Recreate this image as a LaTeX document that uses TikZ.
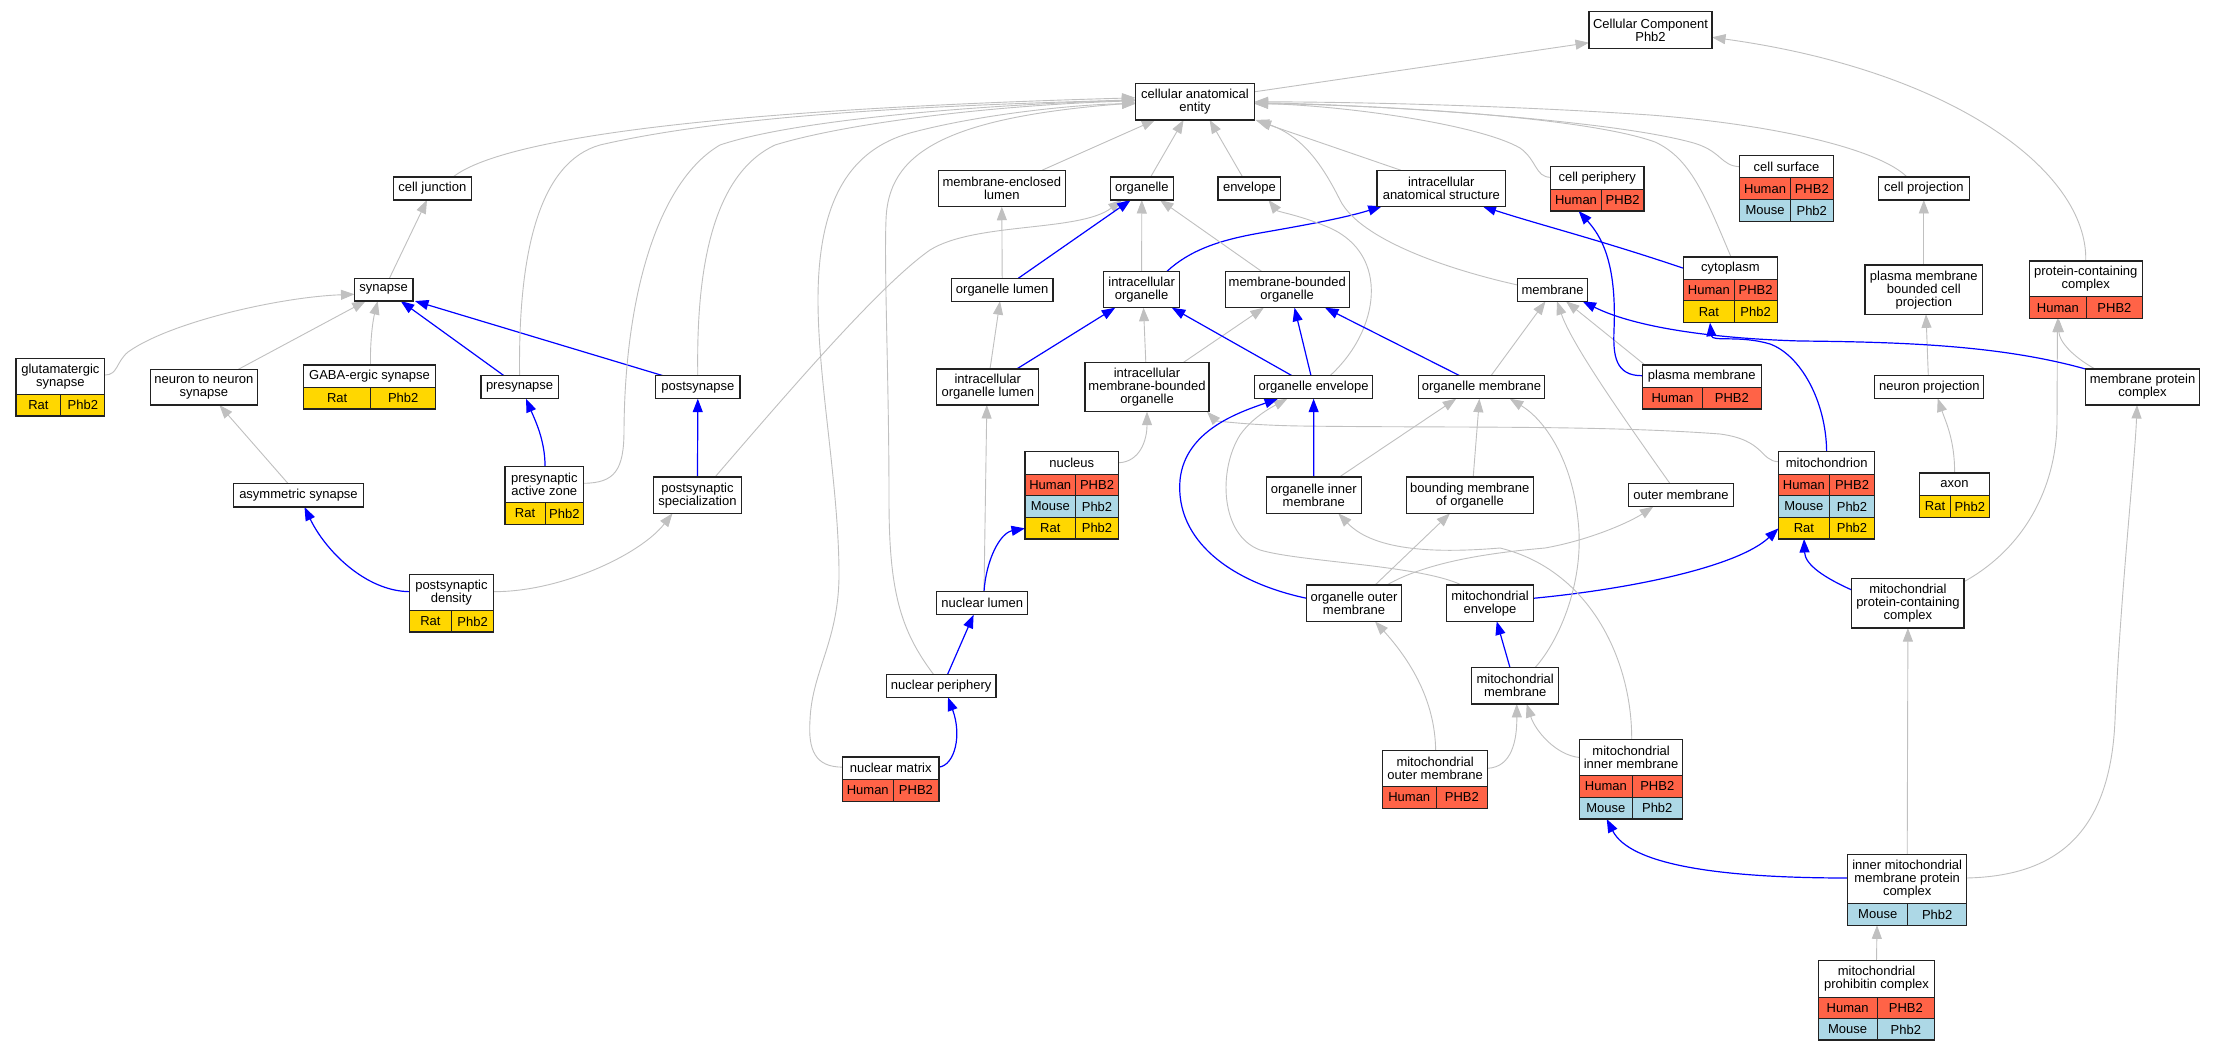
\documentclass[tikz,border=0pt]{standalone}
\usepackage{fontspec}
\setmainfont{Liberation Sans}
\usetikzlibrary{arrows.meta}
\definecolor{hum}{HTML}{FF6347}
\definecolor{mou}{HTML}{ADD8E6}
\definecolor{rat}{HTML}{FFD700}
\definecolor{eg}{HTML}{C0C0C0}
\definecolor{eb}{HTML}{0000FF}
\definecolor{bd}{HTML}{222222}
\newcommand\nf{\fontsize{13}{13}\selectfont}
\pgfdeclarelayer{bg}
\pgfsetlayers{bg,main}
\tikzset{
  gbox/.style={draw=bd, line width=1.2pt, fill=white, inner sep=0pt, outer sep=0pt, align=center, font=\nf, text=black},
  tcell/.style={draw=bd, line width=0.9pt, inner sep=0pt, outer sep=0pt, font=\nf, text=black, align=center},
  tframe/.style={draw=bd, line width=1.2pt, inner sep=0pt, outer sep=0pt},
  isa/.style={draw=eg, line width=0.9pt, -{Triangle[length=13.5pt,width=10pt]}},
  po/.style={draw=eb, line width=1.2pt, -{Triangle[length=13.5pt,width=10pt]}},
}
\newcommand\bx[6]{\node[gbox, minimum width=#4, minimum height=#5] (#1) at (#2,#3) {#6};}
\newcommand\thd[6]{\node[tcell, fill=white, minimum width={#3-#2}, minimum height={#5-#4}] (#1-h) at ({(#2+#3)/2},{(#4+#5)/2}) {#6};}
\newcommand\trw[9]{%
  \node[tcell, fill=#7, minimum width={#3-#2}, minimum height={#6-#5}] (#1-l) at ({(#2+#3)/2},{(#5+#6)/2}) {#8};
  \node[tcell, fill=#7, minimum width={#4-#3}, minimum height={#6-#5}] (#1-r) at ({(#3+#4)/2},{(#5+#6)/2}) {#9};}
\newcommand\hrow[6]{\trw{#1}{#2}{#3}{#4}{#5}{#6}{hum}{Human}{PHB2}}
\newcommand\mrow[6]{\trw{#1}{#2}{#3}{#4}{#5}{#6}{mou}{Mouse}{Phb2}}
\newcommand\rrow[6]{\trw{#1}{#2}{#3}{#4}{#5}{#6}{rat}{Rat}{Phb2}}
\newcommand\tfr[5]{\node[tframe, minimum width={#3-#2}, minimum height={#5-#4}] (#1) at ({(#2+#3)/2},{(#4+#5)/2}) {};}
\begin{document}
\begin{tikzpicture}[x=1pt,y=-1pt]
\useasboundingbox (0,0) rectangle (2216,1051);
% simple nodes
\bx{cc}{1650.5}{30}{123}{36.6}{Cellular Component\\Phb2}
\bx{cae}{1195}{101.8}{119}{36.3}{cellular anatomical\\entity}
\bx{celljunction}{432.3}{188.5}{78.3}{23}{cell junction}
\bx{mel}{1001.8}{188.5}{127}{36.5}{membrane-enclosed\\lumen}
\bx{organelle}{1141.8}{188.5}{62.8}{23}{organelle}
\bx{envelope}{1249.4}{188.5}{62.8}{23}{envelope}
\bx{ias}{1441.3}{188.3}{128.6}{36}{intracellular\\anatomical structure}
\bx{cellprojection}{1923.8}{188.5}{90.6}{23}{cell projection}
\bx{synapse}{383.7}{289.8}{58.5}{22.5}{synapse}
\bx{organellelumen}{1002.2}{289.7}{101.5}{23}{organelle lumen}
\bx{intraorg}{1141.6}{289.5}{76.4}{36.4}{intracellular\\organelle}
\bx{mbo}{1287.2}{289.5}{124.1}{36.4}{membrane-bounded\\organelle}
\bx{membrane}{1552.6}{290}{70}{22.6}{membrane}
\bx{pmbcp}{1923.8}{289.7}{117.8}{49.3}{plasma membrane\\bounded cell\\projection}
\bx{n2n}{203.9}{387.2}{106.7}{35.7}{neuron to neuron\\synapse}
\bx{presynapse}{519.6}{387.2}{77.4}{23}{presynapse}
\bx{postsynapse}{697.8}{387.2}{84.3}{23}{postsynapse}
\bx{iol}{987.8}{387}{102}{36}{intracellular\\organelle lumen}
\bx{imbo}{1147}{387}{124.1}{49.4}{intracellular\\membrane-bounded\\organelle}
\bx{oe}{1313.6}{387.2}{118.4}{23}{organelle envelope}
\bx{om}{1481.5}{387.2}{126.3}{23}{organelle membrane}
\bx{neuronprojection}{1929.3}{387}{108.9}{22.6}{neuron projection}
\bx{mpc}{2142.5}{387}{114.1}{36}{membrane protein\\complex}
\bx{asym}{298.5}{495.2}{130.7}{23.7}{asymmetric synapse}
\bx{ps}{697.5}{495.2}{88}{36.3}{postsynaptic\\specialization}
\bx{oim}{1313.8}{495.2}{94.6}{36.3}{organelle inner\\membrane}
\bx{bmo}{1469.8}{495.2}{126.6}{36.3}{bounding membrane\\of organelle}
\bx{outermembrane}{1681}{495.1}{104.3}{23}{outer membrane}
\bx{nuclearlumen}{982.3}{603.2}{91.1}{23}{nuclear lumen}
\bx{oom}{1354}{603.2}{94.7}{36.3}{organelle outer\\membrane}
\bx{me}{1490}{603.2}{86.7}{36.3}{mitochondrial\\envelope}
\bx{mpcc}{1907.9}{603.2}{112.2}{49.7}{mitochondrial\\protein-containing\\complex}
\bx{np}{941.2}{685.8}{109.4}{23}{nuclear periphery}
\bx{mm}{1515.2}{685.8}{87}{36.3}{mitochondrial\\membrane}
% table nodes
\thd{glut}{16}{104.8}{358.7}{394.3}{glutamatergic\\synapse}
\rrow{glut-1}{16}{60.9}{104.8}{394.3}{416}
\tfr{glut}{16}{104.8}{358.7}{416}
\thd{gaba}{303.4}{435.6}{365}{387.7}{GABA-ergic synapse}
\rrow{gaba-1}{303.4}{370.9}{435.6}{387.7}{409}
\tfr{gaba}{303.4}{435.6}{365}{409}
\thd{cellperiphery}{1550.5}{1643.9}{166.7}{189}{cell periphery}
\hrow{cellperiphery-1}{1550.5}{1601.5}{1643.9}{189}{211}
\tfr{cellperiphery}{1550.5}{1643.9}{166.7}{211}
\thd{cellsurface}{1739.8}{1833.2}{155.7}{177.7}{cell surface}
\hrow{cellsurface-1}{1739.8}{1790.3}{1833.2}{177.7}{199.7}
\mrow{cellsurface-2}{1739.8}{1790.3}{1833.2}{199.7}{221.3}
\tfr{cellsurface}{1739.8}{1833.2}{155.7}{221.3}
\thd{cytoplasm}{1683.7}{1777.1}{257}{279.3}{cytoplasm}
\hrow{cytoplasm-1}{1683.7}{1734}{1777.1}{279.3}{300.7}
\rrow{cytoplasm-2}{1683.7}{1734}{1777.1}{300.7}{322.7}
\tfr{cytoplasm}{1683.7}{1777.1}{257}{322.7}
\thd{pcc}{2029.2}{2142.3}{261}{296.7}{protein-containing\\complex}
\hrow{pcc-1}{2029.2}{2086.5}{2142.3}{296.7}{318.7}
\tfr{pcc}{2029.2}{2142.3}{261}{318.7}
\thd{plasmamembrane}{1642.4}{1761.2}{365}{387.3}{plasma membrane}
\hrow{plasmamembrane-1}{1642.4}{1702.5}{1761.2}{387.3}{409}
\tfr{plasmamembrane}{1642.4}{1761.2}{365}{409}
\thd{paz}{505}{583.7}{466.3}{502.7}{presynaptic\\active zone}
\rrow{paz-1}{505}{545}{583.7}{502.7}{524.3}
\tfr{paz}{505}{583.7}{466.3}{524.3}
\thd{nucleus}{1025}{1118.5}{451.7}{474.3}{nucleus}
\hrow{nucleus-1}{1025}{1075.5}{1118.5}{474.3}{495.7}
\mrow{nucleus-2}{1025}{1075.5}{1118.5}{495.7}{517.3}
\rrow{nucleus-3}{1025}{1075.5}{1118.5}{517.3}{539}
\tfr{nucleus}{1025}{1118.5}{451.7}{539}
\thd{mitochondrion}{1778.5}{1874.8}{451.7}{474.3}{mitochondrion}
\hrow{mitochondrion-1}{1778.5}{1829.2}{1874.8}{474.3}{495.7}
\mrow{mitochondrion-2}{1778.5}{1829.2}{1874.8}{495.7}{517.3}
\rrow{mitochondrion-3}{1778.5}{1829.2}{1874.8}{517.3}{539}
\tfr{mitochondrion}{1778.5}{1874.8}{451.7}{539}
\thd{axon}{1919.8}{1989.3}{473}{495.7}{axon}
\rrow{axon-1}{1919.8}{1950.3}{1989.3}{495.7}{517.3}
\tfr{axon}{1919.8}{1989.3}{473}{517.3}
\thd{psd}{409.2}{493.6}{574.3}{610.7}{postsynaptic\\density}
\rrow{psd-1}{409.2}{451.6}{493.6}{610.7}{632}
\tfr{psd}{409.2}{493.6}{574.3}{632}
\thd{nuclearmatrix}{842.5}{938.9}{757}{779.3}{nuclear matrix}
\hrow{nuclearmatrix-1}{842.5}{893}{938.9}{779.3}{801.3}
\tfr{nuclearmatrix}{842.5}{938.9}{757}{801.3}
\thd{mom}{1382.5}{1487.8}{750.3}{786.3}{mitochondrial\\outer membrane}
\hrow{mom-1}{1382.5}{1436}{1487.8}{786.3}{808.3}
\tfr{mom}{1382.5}{1487.8}{750.3}{808.3}
\thd{mim}{1579.7}{1682.5}{739.5}{775.5}{mitochondrial\\inner membrane}
\hrow{mim-1}{1579.7}{1632}{1682.5}{775.5}{797.3}
\mrow{mim-2}{1579.7}{1632}{1682.5}{797.3}{819}
\tfr{mim}{1579.7}{1682.5}{739.5}{819}
\thd{immpc}{1847.7}{1966.7}{854.7}{903.7}{inner mitochondrial\\membrane protein\\complex}
\mrow{immpc-1}{1847.7}{1907.7}{1966.7}{903.7}{925.3}
\tfr{immpc}{1847.7}{1966.7}{854.7}{925.3}
\thd{prohib}{1818.3}{1934.7}{960.7}{997}{mitochondrial\\prohibitin complex}
\hrow{prohib-1}{1818.3}{1877}{1934.7}{997}{1018.7}
\mrow{prohib-2}{1818.3}{1877}{1934.7}{1018.7}{1040}
\tfr{prohib}{1818.3}{1934.7}{960.7}{1040}
% edges
\begin{pgfonlayer}{bg}
\fill[white] (0,0) rectangle (2216,1051);
\draw[isa] ([yshift=10]cae.east) -- ([yshift=-12.7]cc.west);
\draw[isa] (pcc.north) .. controls (2088,170) and (1950,70) .. ([yshift=-7.3]cc.east);
\draw[isa] ([xshift=20.7]celljunction.north) .. controls (500,140) and (700,110) .. ([yshift=4]cae.west);
\draw[isa] ([xshift=5.6]synapse.north) -- ([xshift=-5.3]celljunction.south);
\draw[isa] ([yshift=12.3]glut.east) .. controls (118,375) and (116,362) .. (128,352) .. controls (170,322) and (280,297) .. ([yshift=-4.5]synapse.west);
\draw[isa] ([xshift=34.4]n2n.north) -- ([xshift=-18]synapse.south);
\draw[isa] ([xshift=1]gaba.north) .. controls (370,340) and (373,320) .. ([xshift=-6]synapse.south);
\draw[po] ([xshift=-15.6]presynapse.north) -- ([xshift=17]synapse.south);
\draw[po] ([xshift=-34.8]postsynapse.north) -- ([xshift=2]synapse.south east);
\draw[isa] (presynapse.north) .. controls (518,250) and (540,162) .. (600,145) .. controls (750,110) and (1000,104) .. ([yshift=2]cae.west);
\draw[isa] (postsynapse.north) .. controls (696,270) and (712,175) .. (775,145) .. controls (850,122) and (1000,105) .. ([yshift=1]cae.west);
\draw[isa] ([xshift=-10.6]asym.north) -- ([xshift=15.5]n2n.south);
\draw[po] ([xshift=0.7]paz.north) .. controls (545,440) and (535,420) .. ([xshift=6.4]presynapse.south);
\draw[isa] ([yshift=12]paz.east) .. controls (615,483) and (624,470) .. (624,430) .. controls (625,290) and (660,180) .. (720,145) .. controls (800,118) and (1000,104) .. ([yshift=1.5]cae.west);
\draw[po] (ps.north) -- (postsynapse.south);
\draw[isa] ([xshift=17.5]ps.north) .. controls (790,390) and (880,285) .. (930,250) .. controls (975,222) and (1080,232) .. ([xshift=-20]organelle.south);
\draw[isa] ([yshift=11.5]psd.east) .. controls (560,592) and (640,555) .. ([xshift=-25]ps.south);
\draw[po] ([yshift=11.5]psd.west) .. controls (365,591) and (325,550) .. ([xshift=6]asym.south);
\draw[isa] ([xshift=40.2]mel.north) -- ([xshift=-39.7]cae.south);
\draw[isa] ([xshift=8.8]organelle.north) -- ([xshift=-11.4]cae.south);
\draw[isa] ([xshift=-6.8]envelope.north) -- ([xshift=14.6]cae.south);
\draw[isa] ([xshift=-40.3]ias.north) -- ([xshift=3,yshift=-1]cae.south east);
\draw[isa] (organellelumen.north) -- (mel.south);
\draw[po] ([xshift=16.2]organellelumen.north) -- ([xshift=-11.1]organelle.south);
\draw[isa] (intraorg.north) -- (organelle.south);
\draw[po] ([xshift=25.4]intraorg.north) .. controls (1190,250) and (1220,240) .. (1260,233) .. controls (1300,226) and (1345,218) .. ([xshift=-59.5]ias.south);
\draw[isa] ([xshift=-25.7]mbo.north) -- ([xshift=18.2]organelle.south);
\draw[isa] ([xshift=2.2]iol.north) -- ([xshift=-2.2]organellelumen.south);
\draw[po] ([xshift=28.9]iol.north) -- ([xshift=-26.4]intraorg.south);
\draw[isa] ([xshift=-1.2]imbo.north) -- ([xshift=1.9]intraorg.south);
\draw[isa] ([xshift=36.6]imbo.north) -- ([xshift=-23.4]mbo.south);
\draw[po] ([xshift=-21.6]oe.north) -- ([xshift=30.2]intraorg.south);
\draw[po] ([xshift=-2.6]oe.north) -- ([xshift=7.3]mbo.south);
\draw[isa] ([xshift=16.4]oe.north) .. controls (1380,330) and (1390,255) .. (1330,228) .. controls (1300,215) and (1278,212) .. ([xshift=19.1]envelope.south);
\draw[po] ([xshift=-21.8]om.north) -- ([xshift=37.8]mbo.south);
\draw[isa] ([xshift=9.5]om.north) -- ([xshift=-7.1]membrane.south);
\draw[isa] ([yshift=32.6]nucleus.east) .. controls (1140,462) and (1147,440) .. (imbo.south);
\draw[isa] ([xshift=1.7]nuclearlumen.north) -- ([xshift=-1]iol.south);
\draw[po] ([xshift=1.7]nuclearlumen.north) .. controls (986,560) and (1000,533) .. ([yshift=-33]nucleus.west);
\draw[po] ([xshift=6.4]np.north) -- ([xshift=-8.7]nuclearlumen.south);
\draw[isa] ([xshift=-7.7]np.north) .. controls (900,630) and (889,590) .. (889,500) .. controls (889,380) and (884,270) .. (886,220) .. controls (888,155) and (940,118) .. ([yshift=-1]cae.west);
\draw[po] ([yshift=12]nuclearmatrix.east) .. controls (955,765) and (962,735) .. ([xshift=6.8]np.south);
\draw[isa] ([yshift=12]nuclearmatrix.west) .. controls (815,767) and (808,750) .. (810,720) .. controls (812,670) and (840,640) .. (839,570) .. controls (838,480) and (818,380) .. (818,300) .. controls (818,200) and (850,150) .. (910,133) .. controls (980,114) and (1080,104) .. ([yshift=-2]cae.west);
\draw[isa] ([xshift=2.6]plasmamembrane.north west) -- ([xshift=13.4]membrane.south);
\draw[po] ([yshift=11.3]plasmamembrane.west) .. controls (1615,376) and (1613,355) .. (1614,330) .. controls (1617,260) and (1600,235) .. ([xshift=-18.6]cellperiphery.south);
\draw[isa] ([yshift=11.5]cellperiphery.west) .. controls (1535,177) and (1537,160) .. (1520,148) .. controls (1480,125) and (1350,106) .. ([yshift=-1.5]cae.east);
\draw[isa] ([yshift=21.8]cellsurface.west) .. controls (1720,166) and (1722,150) .. (1690,142) .. controls (1600,118) and (1350,104) .. ([yshift=-1]cae.east);
\draw[isa] ([xshift=-16.8]cellprojection.north) .. controls (1880,150) and (1780,125) .. (1650,115) .. controls (1500,105) and (1350,102) .. (cae.east);
\draw[isa] (pmbcp.north) -- (cellprojection.south);
\draw[isa] ([xshift=-1]neuronprojection.north) -- ([xshift=2.2]pmbcp.south);
\draw[isa] (axon.north) .. controls (1955,440) and (1945,420) .. ([xshift=8.4]neuronprojection.south);
\draw[po] ([yshift=21.5]cytoplasm.west) .. controls (1600,240) and (1540,225) .. ([xshift=41.3]ias.south);
\draw[isa] ([xshift=0.6]cytoplasm.north) .. controls (1705,195) and (1690,158) .. (1655,142) .. controls (1580,115) and (1350,104) .. ([yshift=-2]cae.east);
\draw[isa] ([yshift=5]membrane.west) .. controls (1450,270) and (1360,240) .. (1340,200) .. controls (1320,160) and (1300,135) .. ([xshift=1]cae.south east);
\draw[po] (mitochondrion.north) .. controls (1826,400) and (1800,355) .. (1770,344) .. controls (1740,335) and (1712,342) .. ([xshift=-20.4]cytoplasm.south);
\draw[isa] ([yshift=33.6]mitochondrion.west) .. controls (1760,461) and (1765,440) .. (1720,434) .. controls (1600,425) and (1450,428) .. (1300,426) .. controls (1240,425) and (1215,420) .. ([xshift=-2]imbo.south east);
\draw[po] ([yshift=4.9]me.east) .. controls (1640,588) and (1740,565) .. ([yshift=-33]mitochondrion.west);
\draw[isa] ([xshift=-28.3]me.north) .. controls (1420,565) and (1300,562) .. (1260,550) .. controls (1220,535) and (1218,470) .. (1240,435) .. controls (1252,418) and (1270,408) .. ([xshift=-26.2]oe.south);
\draw[po] (oim.north) -- (oe.south);
\draw[isa] ([xshift=25.5]oim.north) -- ([xshift=-25.3]om.south);
\draw[isa] ([xshift=3.4]bmo.north) -- ([xshift=-2.1]om.south);
\draw[po] ([yshift=4.9]oom.west) .. controls (1230,582) and (1175,540) .. (1180,480) .. controls (1185,430) and (1240,412) .. ([xshift=-35.6]oe.south);
\draw[isa] ([xshift=21]oom.north) -- ([xshift=-19.8]bmo.south);
\draw[isa] ([xshift=32.7]oom.north) .. controls (1430,560) and (1500,552) .. (1545,548) .. controls (1590,540) and (1630,522) .. ([xshift=-27.7]outermembrane.south);
\draw[isa] ([xshift=-11]outermembrane.north) .. controls (1625,420) and (1572,345) .. ([xshift=4.4]membrane.south);
\draw[po] ([xshift=-5.2]mm.north) -- ([xshift=6.7]me.south);
\draw[isa] ([xshift=19.8]mm.north) .. controls (1560,640) and (1585,580) .. (1578,520) .. controls (1572,460) and (1545,420) .. ([xshift=28.3]om.south);
\draw[isa] ([xshift=0.5]mom.north) .. controls (1435,700) and (1410,660) .. ([xshift=21]oom.south);
\draw[isa] ([yshift=11]mom.east) .. controls (1512,767) and (1517,740) .. ([xshift=1.5]mm.south);
\draw[isa] ([yshift=21.7]mim.west) .. controls (1555,755) and (1535,730) .. ([xshift=11.5]mm.south);
\draw[isa] ([xshift=0.6]mim.north) .. controls (1632,660) and (1590,570) .. (1500,548) .. controls (1440,553) and (1375,552) .. ([xshift=24.5]oim.south);
\draw[po] ([yshift=13.2]mpcc.west) .. controls (1825,578) and (1805,565) .. ([xshift=-22.6]mitochondrion.south);
\draw[isa] ([yshift=21.5]mpcc.east) .. controls (2030,545) and (2057,480) .. (2057,420) -- ([xshift=-28.3]pcc.south);
\draw[po] (mpc.north west) .. controls (2000,345) and (1900,342) .. (1800,341) .. controls (1700,338) and (1630,325) .. ([xshift=-5]membrane.south east);
\draw[isa] ([xshift=-47.5]mpc.north) .. controls (2070,355) and (2059,340) .. ([xshift=-27]pcc.south);
\draw[po] ([yshift=12]immpc.west) .. controls (1720,878) and (1630,865) .. ([xshift=-24.4]mim.south);
\draw[isa] (immpc.north) -- (mpcc.south);
\draw[isa] ([yshift=12]immpc.east) .. controls (2050,876) and (2110,840) .. (2115,720) .. controls (2120,600) and (2135,460) .. ([xshift=-5.5]mpc.south);
\draw[isa] (prohib.north) -- ([xshift=-30.2]immpc.south);
\end{pgfonlayer}
\end{tikzpicture}
\end{document}
